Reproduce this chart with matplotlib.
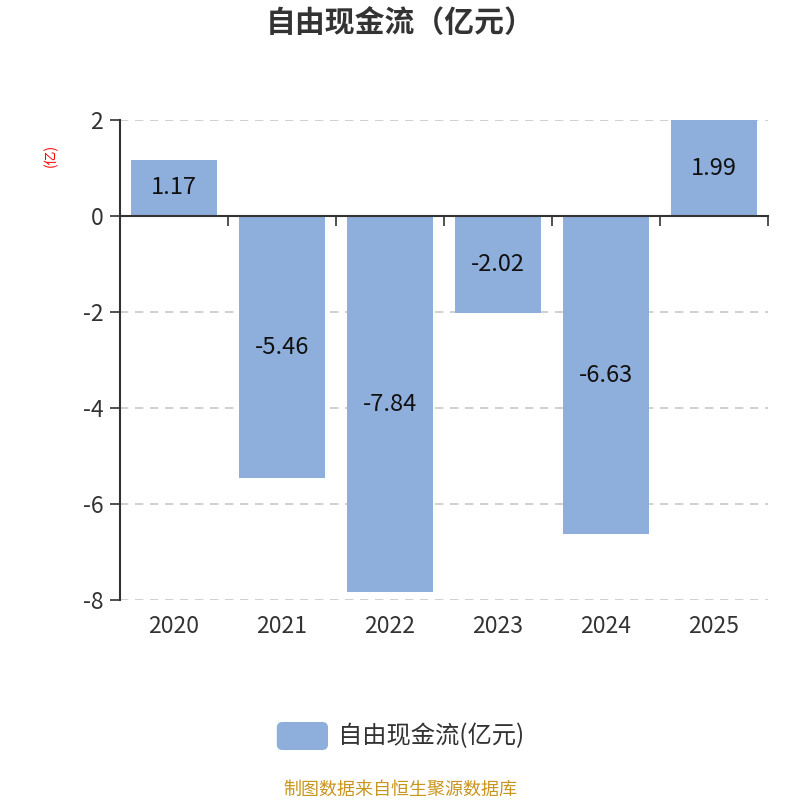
import matplotlib.pyplot as plt
from matplotlib.patches import FancyBboxPatch
from matplotlib.transforms import blended_transform_factory

plt.rcParams['font.family'] = ['Noto Sans CJK SC', 'DejaVu Sans']

years = ['2020', '2021', '2022', '2023', '2024', '2025']
values = [1.17, -5.46, -7.84, -2.02, -6.63, 1.99]
title = '自由现金流（亿元）'
series_name = '自由现金流(亿元)'
bar_color = '#8eaedb'

fig = plt.figure(figsize=(8, 8), dpi=100)
ax = fig.add_axes([0.15, 0.25, 0.81, 0.60])

x = list(range(len(years)))
ax.bar(x, values, width=0.8, color=bar_color, zorder=2)
for xi, v in zip(x, values):
    ax.text(xi, v / 2, f'{v:.2f}', ha='center', va='center', fontsize=17, color='#111111', zorder=3)

ax.set_xlim(-0.5, len(years) - 0.5)
ax.set_ylim(-8, 2)
ax.set_yticks([2, 0, -2, -4, -6, -8])
ax.set_yticklabels(['2', '0', '-2', '-4', '-6', '-8'])
ax.tick_params(axis='y', length=7, width=1.2, color='#333333', labelcolor='#333333', labelsize=16.5, pad=5)
for gy in [2, -2, -4, -6, -8]:
    ax.axhline(gy, color='#c8c8c8', linestyle=(0, (5, 4)), linewidth=1.2, zorder=1)

# x axis at zero, ticks on category boundaries
ax.spines['bottom'].set_position(('data', 0))
ax.spines['bottom'].set_color('#333333')
ax.spines['bottom'].set_linewidth(1.5)
ax.spines['bottom'].set_zorder(4)
ax.spines['left'].set_color('#333333')
ax.spines['left'].set_linewidth(1.5)
ax.spines['top'].set_visible(False)
ax.spines['right'].set_visible(False)
ax.set_xticks([i - 0.5 for i in range(len(years) + 1)])
ax.set_xticklabels([])
ax.tick_params(axis='x', length=7, width=1.2, color='#333333')

tr = blended_transform_factory(ax.transData, ax.transAxes)
for xi, lab in zip(x, years):
    ax.text(xi, -0.055, lab, transform=tr, ha='center', va='center', fontsize=16.5, color='#333333')

fig.text(0.063, 0.806, '(亿)', rotation=90, ha='center', va='center', fontsize=10, color='red')
fig.text(0.5, 0.971, title, ha='center', va='center', fontsize=21.5, fontweight='bold', color='#333333')

# legend
patch = FancyBboxPatch((0.346, 0.0625), 0.064, 0.035, boxstyle='round,pad=0,rounding_size=0.007',
                       transform=fig.transFigure, facecolor=bar_color, edgecolor='none')
fig.patches.append(patch)
fig.text(0.4225, 0.08, series_name, ha='left', va='center', fontsize=17.5, color='#333333')

fig.text(0.5, 0.0125, '制图数据来自恒生聚源数据库', ha='center', va='center', fontsize=13, color='#c8961e')

fig.savefig('out.png', dpi=100)
